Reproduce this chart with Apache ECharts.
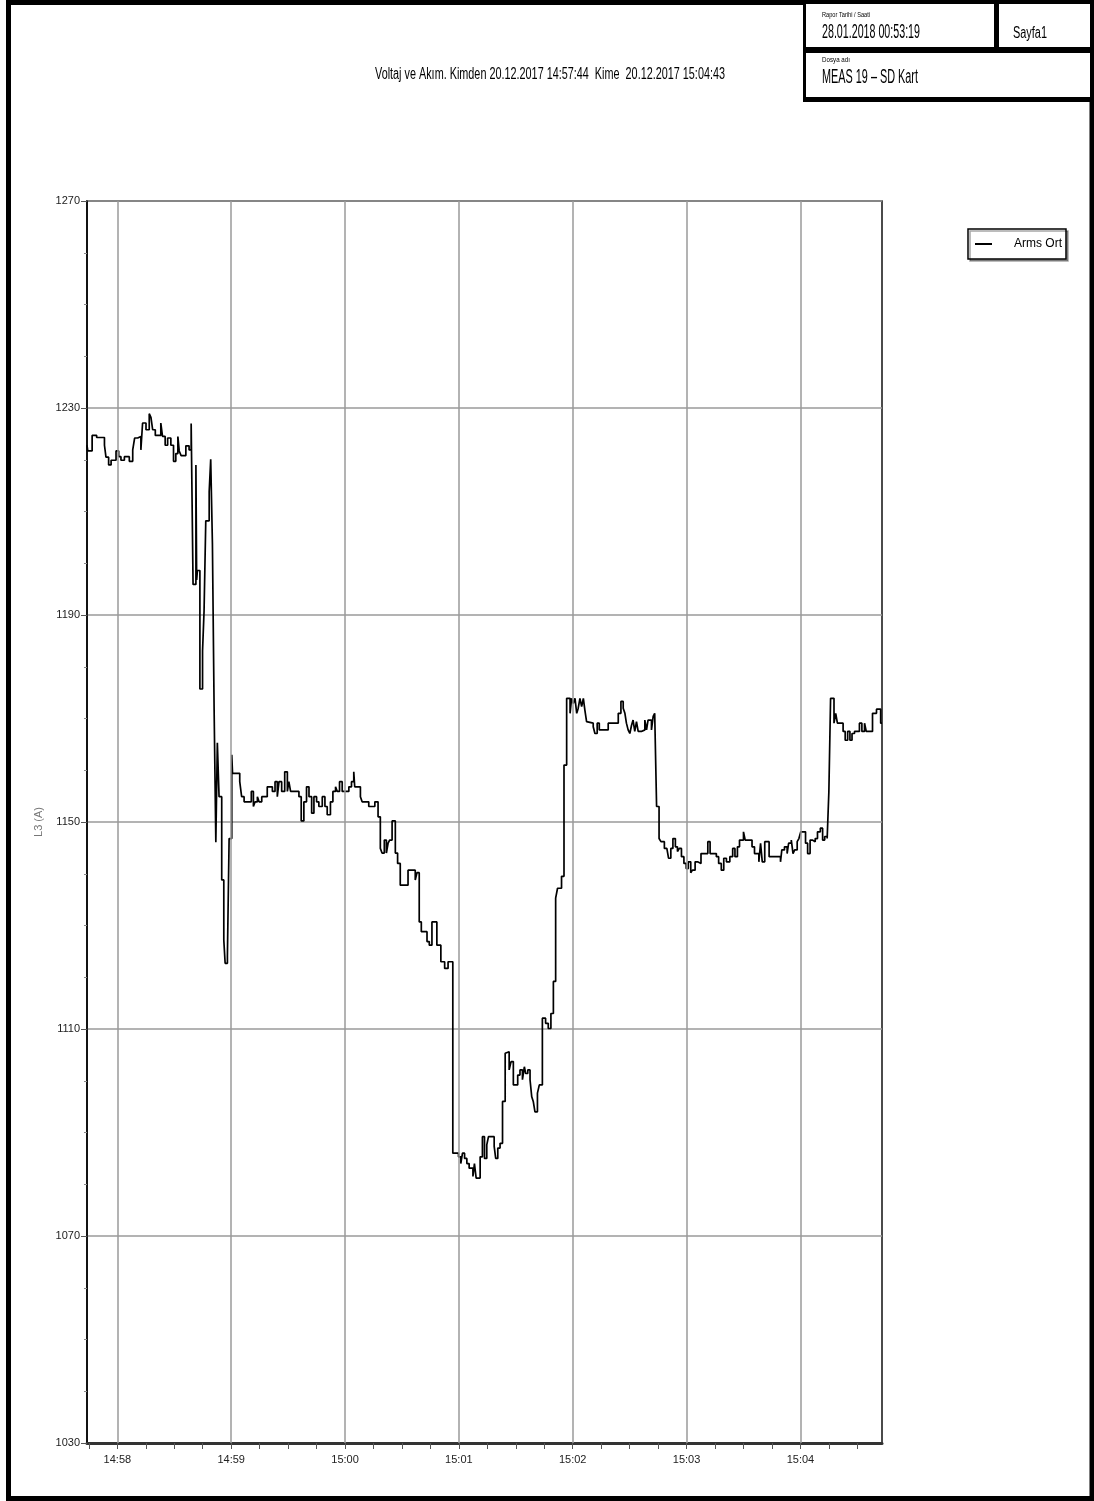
<!DOCTYPE html>
<html>
<head>
<meta charset="utf-8">
<script src="https://cdn.jsdelivr.net/npm/echarts@6/dist/echarts.min.js"></script>
<style>
html,body{margin:0;padding:0;background:#fff}
#c{width:1094px;height:1501px}
</style>
</head>
<body>
<div id="c"></div>
<script>
// ---------- texts ----------
const chartTitle = 'Voltaj ve Akım. Kimden 20.12.2017 14:57:44  Kime  20.12.2017 15:04:43';
const seriesName = 'Arms Ort';
const yAxisName = 'L3 (A)';
const reportDateLabel = 'Rapor Tarihi / Saati';
const reportDateValue = '28.01.2018 00:53:19';
const pageLabel = 'Sayfa1';
const fileLabel = 'Dosya adı';
const fileValue = 'MEAS 19 – SD Kart';

// ---------- x axis (seconds from 14:58:00) ----------
const xMin = -16;   // 14:57:44
const xMax = 403;   // 15:04:43
const xMajorTicks = [0, 60, 120, 180, 240, 300, 360];
const xTickLabels = ['14:58', '14:59', '15:00', '15:01', '15:02', '15:03', '15:04'];
const xAllTicks = [-15, 0, 15, 30, 45, 60, 75, 90, 105, 120, 135, 150, 165, 180, 195, 210, 225, 240,
  255, 270, 285, 300, 315, 330, 345, 360, 375, 390];

// ---------- y axis ----------
const yMin = 1030, yMax = 1270, yStep = 40;

// ---------- series: change points (seconds from 14:58:00) and values (A) ----------
const timeSec = [
  -16, -15.6, -13.3, -10.9, -6.8, -6.0, -4.6, -3.3, -0.7, 0.7, 1.9, 3.7, 6.3, 8.1, 9.1, 10.7, 12.4, 13.3,
  15.1, 16.8, 17.7, 18.6, 20.0, 22.9, 23.8, 25.2, 26.5, 28.2, 29.6, 30.8, 31.9, 32.6, 33.6, 36.1, 37.8, 38.9,
  39.9, 41.4, 41.8, 42.2, 43.5, 44.9, 45.7, 46.6, 48.4, 49.2, 50.1, 51.0, 51.9, 52.7,
  53.6, 55.0, 56.1, 56.8, 58.0, 58.9, 60.3, 60.7, 64.5, 65.5, 66.8, 70.6, 71.7, 72.6, 73.8, 74.7, 76.1,
  79.0, 81.7, 83.1, 84.3, 85.2, 86.6, 88.2, 89.6, 90.4, 91.3, 95.7, 96.9, 98.3, 99.7, 101.0, 102.4, 103.6,
  105.0, 106.2, 108.0, 109.4, 110.6, 112.3, 113.6, 115.0, 115.9, 117.1, 118.5, 122.0, 123.4, 124.6, 125.1,
  128.1, 129.0, 132.5, 135.7, 137.4, 138.6, 139.5, 140.7, 141.8, 142.7, 143.5, 144.8, 146.5, 147.7, 149.1,
  153.2, 157.0, 157.9, 159.1, 160.2, 163.2, 164.4, 165.8, 168.4, 170.5, 172.5, 174.3,
  176.8, 179.8, 181.0, 181.9, 183.0, 184.2, 185.4, 187.4, 188.2, 189.1, 191.2, 192.4, 193.5, 194.7, 195.6,
  198.6, 199.4, 200.5, 201.7, 203.0, 204.4, 205.2, 206.5, 207.5, 208.7, 211.0, 212.2, 213.5, 214.5, 215.2,
  216.3, 217.5, 218.4, 219.2, 220.1, 221.4, 222.4, 224.0, 225.7, 227.1, 228.5, 229.8, 231.0, 232.0, 234.1,
  235.4, 236.8, 238.6, 239.4, 240.3, 241.2, 242.1, 242.9, 243.8, 244.7, 245.6, 246.4, 247.3, 248.2, 250.8,
  251.7, 252.9, 254.0, 258.7, 264.0, 265.4, 266.6, 267.5, 268.3, 269.2, 270.1, 271.0, 271.8, 272.7, 273.6,
  274.5, 276.2, 278.0, 278.9, 279.7, 281.5, 282.4, 283.2,
  284.2, 285.5, 286.5, 288.3, 289.6, 290.5, 291.7, 292.8, 294.1, 295.2, 296.2, 297.3, 298.6, 299.8, 300.9,
  302.2, 303.1, 304.5, 305.8, 307.6, 311.2, 312.4, 315.7, 316.9, 318.3, 319.6, 321.0, 322.8, 324.3, 325.5,
  326.8, 327.9, 330.0, 330.9, 334.5, 335.8, 338.1, 339.0, 339.9, 341.2, 343.5, 349.5, 350.2, 351.6, 353.0,
  353.8, 355.2, 356.1, 357.0, 358.3, 359.2, 360.2, 362.7, 363.8, 365.1, 366.3, 367.8, 369.0, 370.5, 371.7,
  372.8, 374.1, 375.0, 375.9, 377.7, 378.6, 379.5, 382.5, 383.6, 384.9, 386.1, 387.2, 388.5, 391.1, 392.4,
  393.8, 394.7, 398.0, 400.1, 402.3, 403
];
const ampValues = [
  1222.8, 1221.7, 1224.7, 1224.3, 1222.8, 1220.5, 1219.0, 1219.9, 1221.7, 1220.6, 1219.9, 1220.6, 1219.7, 1221.9, 1224.2, 1224.5, 1221.9, 1227.1,
  1225.8, 1228.9, 1228.2, 1225.8, 1224.7, 1227.1, 1224.5, 1222.8, 1224.2, 1222.8, 1219.7, 1221.2, 1224.5, 1221.7, 1220.8, 1222.7, 1221.9, 1227.0,
  1195.9, 1219.0, 1196.8, 1198.6, 1175.7, 1183.1, 1190.8, 1208.2, 1213.8, 1220.1, 1203.8, 1171.6, 1146.1, 1165.3,
  1154.9, 1138.8, 1127.2, 1122.7, 1124.0, 1146.8, 1163.0, 1159.4, 1157.8, 1154.9, 1153.9, 1155.9, 1153.0, 1153.9, 1154.9, 1153.9, 1154.9,
  1156.8, 1155.9, 1157.8, 1154.9, 1157.8, 1155.9, 1159.7, 1155.9, 1157.8, 1155.9, 1154.9, 1150.2, 1153.9, 1156.8, 1154.9, 1151.7, 1154.9,
  1153.9, 1153.0, 1154.9, 1153.0, 1151.4, 1153.9, 1155.9, 1156.8, 1155.9, 1157.8, 1155.9, 1156.8, 1157.8, 1159.7, 1156.8,
  1154.9, 1153.9, 1153.0, 1153.9, 1151.0, 1144.9, 1144.0, 1146.5, 1144.0, 1145.9, 1146.5, 1150.2, 1144.0, 1142.0, 1137.8,
  1140.7, 1138.8, 1140.2, 1130.7, 1128.8, 1126.9, 1126.2, 1130.7, 1126.2, 1123.0, 1121.7, 1123.0,
  1086.0, 1085.3, 1084.0, 1086.0, 1085.0, 1084.0, 1083.1, 1081.5, 1084.0, 1081.2, 1085.3, 1089.2, 1085.0, 1087.6, 1089.2,
  1087.3, 1085.0, 1087.0, 1087.9, 1096.0, 1105.3, 1105.6, 1102.1, 1103.7, 1099.2, 1101.1, 1102.1, 1100.2, 1102.7, 1101.4,
  1102.1, 1100.2, 1096.9, 1096.0, 1094.0, 1097.6, 1099.2, 1112.1, 1111.1, 1110.1, 1113.0, 1119.2, 1135.3, 1137.2, 1139.5,
  1161.0, 1173.9, 1171.0, 1173.9, 1172.9, 1173.9, 1171.0, 1172.0, 1173.9, 1172.3, 1173.9, 1171.6, 1169.4, 1169.1, 1168.4,
  1167.1, 1169.1, 1167.8, 1169.1, 1171.0, 1173.3, 1172.0, 1171.0, 1169.1, 1167.8, 1167.1, 1168.7, 1169.7, 1167.5, 1169.4,
  1167.5, 1167.8, 1169.7, 1167.8, 1169.7, 1167.8, 1170.4, 1171.0,
  1153.0, 1146.8, 1146.2, 1144.9, 1145.2, 1143.0, 1144.9, 1146.8, 1145.2, 1144.3, 1144.9, 1143.3, 1142.0, 1141.0, 1142.3,
  1140.2, 1140.7, 1142.3, 1142.0, 1143.9, 1146.2, 1143.9, 1143.3, 1142.0, 1140.7, 1143.0, 1142.3, 1143.3, 1144.9, 1143.3,
  1145.2, 1146.5, 1148.1, 1146.5, 1145.2, 1143.9, 1142.3, 1145.9, 1142.3, 1146.2, 1143.3, 1142.3, 1144.6, 1145.2, 1143.9,
  1145.9, 1146.5, 1143.9, 1144.6, 1146.2, 1146.8, 1148.1, 1145.9, 1143.9, 1146.5, 1146.2, 1146.8, 1148.1, 1148.8, 1146.5,
  1147.2, 1146.8, 1155.9, 1173.9, 1169.1, 1171.0, 1169.1, 1167.5, 1165.8, 1167.5, 1165.8, 1167.1, 1167.5, 1169.1, 1167.5,
  1169.1, 1167.5, 1171.0, 1171.8, 1169.1, 1169.1
];

// ---------- helpers ----------
const SANS = "'Liberation Sans', Arial, sans-serif";
const measureCtx = document.createElement('canvas').getContext('2d');
function fitScale(text, size, target) {
  measureCtx.font = size + 'px ' + SANS;
  return target / measureCtx.measureText(text).width;
}
function headText(text, x, y, size, targetW, align) {
  return {
    type: 'text', x: x, y: y, z: 100,
    scaleX: fitScale(text, size, targetW),
    style: { text: text, fontSize: size, fontFamily: SANS, fill: '#000',
      textAlign: align || 'left', textVerticalAlign: 'middle' }
  };
}

const seriesData = timeSec.map((t, i) => [t, ampValues[i]]);

const chart = echarts.init(document.getElementById('c'), null, { renderer: 'canvas' });
chart.setOption({
  animation: false,
  backgroundColor: '#fff',
  grid: { left: 87, top: 201, right: 212, bottom: 58, show: true, borderColor: '#111', borderWidth: 1.5, backgroundColor: 'transparent' },
  legend: {
    data: [seriesName], left: 968, top: 229, selectedMode: false,
    padding: [9, 4, 9, 7], itemWidth: 17, itemHeight: 2, icon: 'rect',
    borderColor: '#000', borderWidth: 1.5, backgroundColor: '#fff',
    shadowColor: 'rgba(0,0,0,0.35)', shadowOffsetX: 2, shadowOffsetY: 2, shadowBlur: 0,
    textStyle: { fontFamily: SANS, fontSize: 12, color: '#000', padding: [0, 0, 0, 17] }
  },
  xAxis: {
    type: 'value', min: xMin, max: xMax,
    axisLine: { show: true, onZero: false, lineStyle: { color: '#333', width: 3 } },
    axisTick: { show: true, customValues: xAllTicks, length: 6, lineStyle: { color: '#555', width: 1 } },
    axisLabel: {
      customValues: xMajorTicks, margin: 11, color: '#222', fontSize: 11, fontFamily: SANS,
      formatter: v => xTickLabels[xMajorTicks.indexOf(v)] || ''
    },
    splitLine: { show: false }
  },
  yAxis: {
    type: 'value', min: yMin, max: yMax, interval: yStep,
    name: yAxisName, nameLocation: 'middle', nameGap: 42,
    nameTextStyle: { color: '#777', fontSize: 11, fontFamily: SANS },
    axisLine: { show: true, onZero: false, lineStyle: { color: '#000', width: 1.5 } },
    axisTick: { show: true, length: 6, lineStyle: { color: '#555' } },
    minorTick: { show: true, splitNumber: 4, length: 3, lineStyle: { color: '#888' } },
    axisLabel: { margin: 7, color: '#222', fontSize: 11, fontFamily: SANS, formatter: v => String(v) },
    splitLine: { show: true, lineStyle: { color: '#9a9a9a', width: 1.5 } }
  },
  series: [
    {
      name: 'grid', type: 'line', data: [], z: 1, silent: true,
      markLine: {
        silent: true, symbol: ['none', 'none'], label: { show: false },
        lineStyle: { color: '#9a9a9a', width: 1.5, type: 'solid' },
        data: xMajorTicks.map(v => ({ xAxis: v }))
      }
    },
    {
      name: seriesName, type: 'line', step: 'end', data: seriesData, z: 3,
      showSymbol: false, color: '#000',
      lineStyle: { color: '#000', width: 1.7 }
    }
  ],
  graphic: {
    elements: [
      { type: 'rect', z: 90, shape: { x: 8.5, y: 2.5, width: 1083.5, height: 1496 },
        style: { fill: 'transparent', stroke: '#000', lineWidth: 5 } },
      { type: 'rect', z: 91, shape: { x: 803, y: 0, width: 291, height: 102 }, style: { fill: '#000' } },
      { type: 'rect', z: 92, shape: { x: 806, y: 4, width: 188, height: 43 }, style: { fill: '#fff' } },
      { type: 'rect', z: 92, shape: { x: 999, y: 4, width: 91, height: 43 }, style: { fill: '#fff' } },
      { type: 'rect', z: 92, shape: { x: 806, y: 53, width: 284, height: 44 }, style: { fill: '#fff' } },
      headText(reportDateLabel, 822, 15, 8, 48),
      headText(reportDateValue, 822, 32.5, 20, 98),
      headText(pageLabel, 1013, 34, 16, 34),
      headText(fileLabel, 822, 59.5, 8, 28),
      headText(fileValue, 822, 77.5, 20, 96),
      headText(chartTitle, 550, 74.5, 16, 350, 'center')
    ]
  }
});
</script>
</body>
</html>
